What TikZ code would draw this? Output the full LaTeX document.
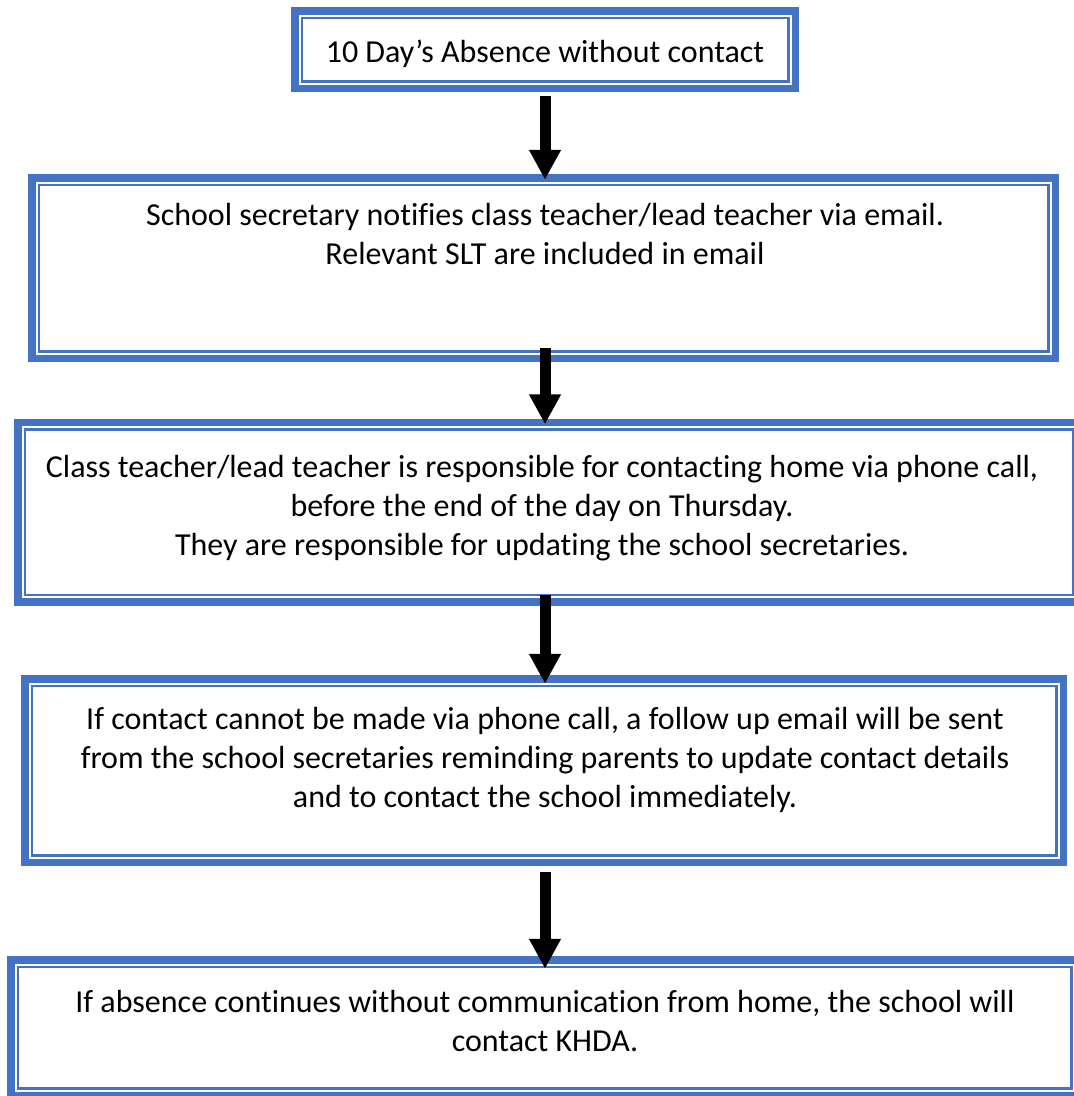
\documentclass[tikz,border=0pt]{standalone}
\usepackage{fontspec}
\setmainfont{Carlito}[Ligatures=NoCommon]
\usetikzlibrary{arrows.meta}
\definecolor{boxblue}{HTML}{4472C4}
\tikzset{
  flowbox/.style={draw=boxblue, line width=7.5pt, fill=white, inner sep=0pt, outer sep=0pt},
  innerline/.style={draw=boxblue, line width=2.5pt},
  flowtext/.style={align=center, inner sep=0pt, font=\fontsize{32}{39}\selectfont},
  blockarrow/.style={line width=11pt, -{Triangle[width=30pt,length=30pt]}}
}
\newcommand{\innerframe}[1]{\draw[innerline] ([shift={(7pt,-7pt)}]#1.north west) rectangle ([shift={(-7pt,7pt)}]#1.south east);}
\begin{document}
\begin{tikzpicture}[x=1pt,y=-1pt]
\useasboundingbox (0,0) rectangle (1074,1096);
\clip (0,0) rectangle (1074,1096);
\node[flowbox, minimum width=500.5pt, minimum height=77.5pt] (b1) at (545,49.5) {};
\node[flowbox, minimum width=1023.5pt, minimum height=180.5pt] (b2) at (543.5,268) {};
\node[flowbox, minimum width=1062.5pt, minimum height=179.5pt] (b3) at (549,512) {};
\node[flowbox, minimum width=1038.5pt, minimum height=183.5pt] (b4) at (544,770.5) {};
\node[flowbox, minimum width=1067.5pt, minimum height=135.5pt] (b5) at (544.5,1027.5) {};
\innerframe{b1}
\innerframe{b2}
\innerframe{b3}
\innerframe{b4}
\innerframe{b5}
\node[flowtext] (t1) at (545,54) {10 Day’s Absence without contact};
\node[flowtext] (t2) at (545,234) {School secretary notifies class teacher/lead teacher via email.\\Relevant SLT are included in email};
\node[flowtext] (t3) at (542,508) {Class teacher/lead teacher is responsible for contacting home via phone call,\\before the end of the day on Thursday.\\They are responsible for updating the school secretaries.};
\node[flowtext] (t4) at (545,760) {If contact cannot be made via phone call, a follow up email will be sent\\from the school secretaries reminding parents to update contact details\\and to contact the school immediately.};
\node[flowtext] (t5) at (545,1021) {If absence continues without communication from home, the school will\\contact KHDA.};
\coordinate (ax) at (545,0);
\draw[blockarrow] ([yshift=-8pt]b1.south -| ax) -- ([yshift=-2pt]b2.north -| ax);
\draw[blockarrow] ([yshift=10pt]b2.south -| ax) -- ([yshift=-2pt]b3.north -| ax);
\draw[blockarrow] ([yshift=7pt]b3.south -| ax) -- ([yshift=-5pt]b4.north -| ax);
\draw[blockarrow] ([yshift=-10pt]b4.south -| ax) -- ([yshift=-9pt]b5.north -| ax);
\end{tikzpicture}
\end{document}
